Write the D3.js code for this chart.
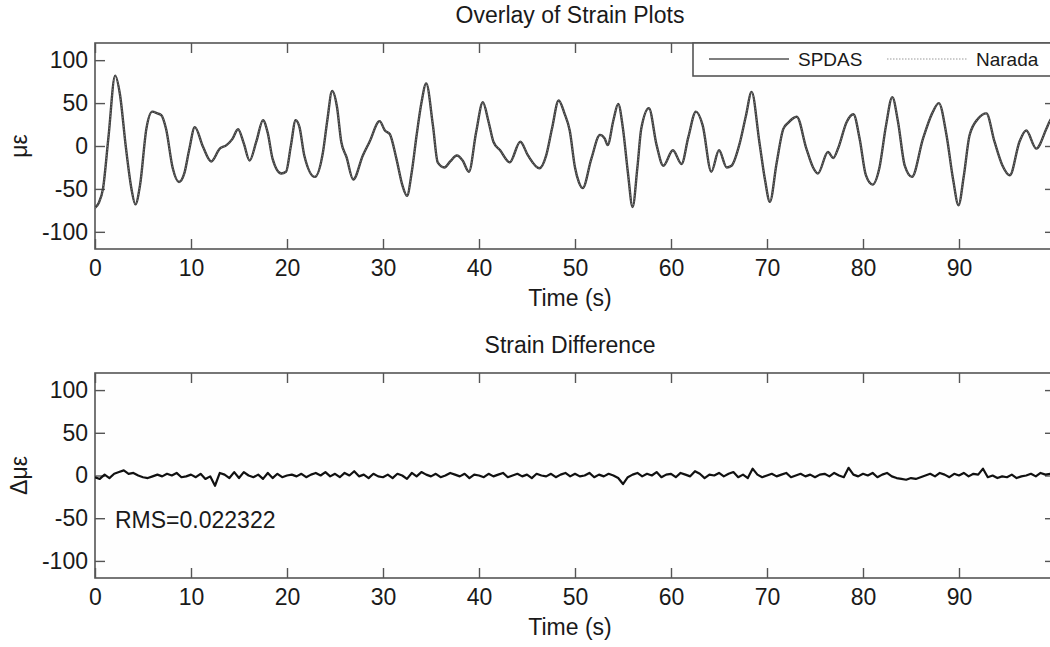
<!DOCTYPE html>
<html>
<head>
<meta charset="utf-8">
<style>
  body { margin: 0; background: #fff; font-family: "Liberation Sans", Arial, Helvetica, sans-serif; }
  .axis text { font-size: 23px; fill: #1a1a1a; font-family: "Liberation Sans", Arial, sans-serif; }
  .axis line { stroke: #555; stroke-width: 1.4; }
  .axis path { display: none; }
  .box { fill: #fefefe; stroke: #555; stroke-width: 1.6; }
  .title, .xlabel, .ylabel, .note { font-size: 23px; fill: #1a1a1a; }
  .legend text { font-size: 19px; fill: #1a1a1a; }
</style>
</head>
<body>
<script src="https://d3js.org/d3.v7.min.js"></script>
<script>
// strain overlay: points (time in s, strain in microstrain)
const strainTime = [0, 0.4, 0.83, 1.4, 2.1, 2.6, 3.2, 3.8, 4.2, 4.7, 5.35, 5.97, 6.5, 6.9, 7.4, 8.1, 8.75, 9.3, 9.8,
  10.4, 11.25, 12.1, 13.0, 13.7, 14.3, 14.9, 15.5, 16.1, 16.8, 17.5, 18.0, 18.5, 19.4, 19.9,
  20.4, 20.9, 21.3, 21.8, 22.9, 23.75, 24.2, 24.7, 25.2, 25.65, 26.2, 26.9, 27.9, 28.6, 29.65,
  30.2, 30.7, 31.4, 32.0, 32.5, 33.0, 33.5, 34.0, 34.5, 35.2, 35.7, 36.4, 37.0, 37.7, 38.3, 38.95, 39.7,
  40.4, 41.0, 41.5, 42.2, 43.2, 44.3, 45.1, 46.3, 47.0, 47.6, 48.3, 48.9, 49.45,
  50.0, 50.4, 50.8, 51.7, 52.6, 53.1, 53.4, 54.0, 54.5, 55.0, 55.5, 56.0, 56.5, 56.9, 57.7, 58.5, 59.2,
  60.2, 61.1, 61.8, 62.6, 63.3, 64.2, 65.0, 65.8, 66.3, 67.2, 67.8, 68.4, 69.2, 69.8,
  70.3, 71.0, 71.7, 72.2, 73.1, 74.1, 74.8, 75.3, 76.35, 76.9, 77.4, 78.3, 79.0, 79.65,
  80.3, 81.0, 81.7, 82.4, 83.05, 83.65, 84.35, 85.1, 86.25, 87.2, 87.9, 88.7, 89.4, 89.95,
  90.5, 91.1, 92.0, 92.85, 93.7, 94.5, 95.3, 96.3, 97.0, 98.05, 99.1, 99.5, 100];
const spdasStrain = [-72, -66, -50, 10, 82, 60, 0, -50, -68, -45, 20, 40, 38, 36, 20, -26, -42, -32, -5,
  22, -1, -18, -3, 1, 8, 19.5, 3, -17, 5, 30, 15, -15, -32, -30,
  0, 30, 22, -11, -36, -7, 30, 64, 46, 5, -13, -39, -11, 5, 29,
  18, 14, -15, -45, -58, -30, 12.5, 50, 73, 24, -19, -25, -18, -11, -17, -30, 16,
  51, 28, 5, -5, -19, 5, -11, -26, -11, 20, 53, 38, 18,
  -25, -42, -49, -15, 13, 8.5, 1, 30, 49, 20, -30, -71, -25, 20, 44, 1, -23,
  -5, -21, 10, 40, 24, -30, -5, -25, -23, 5, 35, 63, 5, -40,
  -65, -20, 20, 27, 34, -3, -25, -32, -7, -14, -3, 28, 37, 8.5,
  -34, -45, -26, 24, 57, 28, -23, -36, 8.5, 38, 50, 12.5, -40, -69,
  -35, 12.5, 32, 38, 5, -22, -34, 5, 18, -3, 20, 30, 35];
// Narada trace sits on top of SPDAS at this scale
const naradaStrain = spdasStrain;

// strain difference, one reading every 0.5 s
const diffStep = 0.5;
const strainDiff = [
  -2, -4, 1, -3, 2, 4, 6, 2, 3, 0,
  -2, -3, -1, 1, -1, 2, 0, 3, -2, -1,
  1, -2, 2, -4, -1, -12, 3, 1, -3, 4,
  -3, 4, 0, -2, 1, -4, 3, -3, 2, -2,
  0, 1, -1, 2, -2, 1, 3, 0, 4, -1,
  2, -2, 3, 0, 5, -1, 1, -3, 2, -1,
  -2, 1, -3, 2, 0, -4, 3, -1, 4, 1,
  -1, 2, -2, 0, 3, 1, -1, 2, -3, 1,
  0, -2, 2, -1, 1, 3, -2, 0, 2, -1,
  1, -3, 2, 0, -1, 2, -2, 1, 3, -1,
  2, -1, 0, 3, -2, 1, -1, 2, 0, -3,
  -10, -2, 1, 3, -1, 2, 0, 4, -2, 1,
  2, -2, 3, 1, -1, 5, 2, -3, 1, 0,
  3, -1, 2, 4, -2, 1, -3, 8, 1, -2,
  0, 2, -1, 1, 3, -2, 0, 2, -1, 1,
  -2, 1, 2, -1, 3, 0, -2, 9, 1, -1,
  2, 0, 3, -2, 1, 3, -1, -3, -4, -5,
  -3, -4, -2, 0, 2, -1, 3, 1, -2, 2,
  0, 3, -1, 2, 1, 8, -2, 0, -3, -1,
  -2, 1, -3, -1, 0, 2, -1, 3, 1, 2,
  0];

const xTicks = [0, 10, 20, 30, 40, 50, 60, 70, 80, 90];
const yTicks = [-100, -50, 0, 50, 100];
const legendNames = ["SPDAS", "Narada"];
const rmsLabel = "RMS=0.022322";

const width = 1050, height = 647;
const left = 95, right = 1055;

const svg = d3.select("body").append("svg")
  .attr("width", width)
  .attr("height", height);

const x = d3.scaleLinear().domain([0, 100]).range([left, right]);
const plain = d => String(d);   // hyphen minus, like the original

function panel(top, bottom, id, title, ylab) {
  const y = d3.scaleLinear().domain([-120, 120]).range([bottom, top]);

  svg.append("rect").attr("class", "box")
    .attr("x", left).attr("y", top)
    .attr("width", right - left).attr("height", bottom - top);

  svg.append("clipPath").attr("id", id)
    .append("rect").attr("x", left).attr("y", top)
    .attr("width", right - left).attr("height", bottom - top);

  svg.append("g").attr("class", "axis")
    .attr("transform", "translate(0," + bottom + ")")
    .call(d3.axisBottom(x).tickValues(xTicks).tickFormat(plain).tickSize(-10).tickPadding(11));
  svg.append("g").attr("class", "axis")
    .attr("transform", "translate(0," + top + ")")
    .call(d3.axisTop(x).tickValues(xTicks).tickSize(-10).tickFormat(""));
  svg.append("g").attr("class", "axis")
    .attr("transform", "translate(" + left + ",0)")
    .call(d3.axisLeft(y).tickValues(yTicks).tickFormat(plain).tickSize(-10).tickPadding(7));
  svg.append("g").attr("class", "axis")
    .attr("transform", "translate(" + right + ",0)")
    .call(d3.axisRight(y).tickValues(yTicks).tickSize(-10).tickFormat(""));

  svg.append("text").attr("class", "title")
    .attr("x", (left + right) / 2 - 5).attr("y", top - 20)
    .attr("text-anchor", "middle").text(title);
  svg.append("text").attr("class", "xlabel")
    .attr("x", (left + right) / 2 - 5).attr("y", bottom + 57)
    .attr("text-anchor", "middle").text("Time (s)");
  svg.append("text").attr("class", "ylabel")
    .attr("transform", "translate(27," + y(0) + ") rotate(-90)")
    .attr("text-anchor", "middle").text(ylab);
  return y;
}

// top panel
const y1 = panel(43, 249, "clipTop", "Overlay of Strain Plots", "με");
const strainLine = d3.line()
  .x((d, i) => x(strainTime[i]))
  .y(d => y1(d))
  .curve(d3.curveMonotoneX);

svg.append("path")
  .attr("clip-path", "url(#clipTop)")
  .attr("d", strainLine(spdasStrain))
  .attr("fill", "none").attr("stroke", "#3c3c3c").attr("stroke-width", 2.4);
svg.append("path")
  .attr("clip-path", "url(#clipTop)")
  .attr("d", strainLine(naradaStrain))
  .attr("fill", "none").attr("stroke", "#777").attr("stroke-width", 1)
  .attr("stroke-dasharray", "1.5,1.5");

// legend
const lg = svg.append("g").attr("class", "legend");
lg.append("rect").attr("x", 693).attr("y", 43).attr("width", 370).attr("height", 33)
  .attr("fill", "#fff").attr("stroke", "#555").attr("stroke-width", 1.6);
lg.append("line").attr("x1", 709).attr("x2", 789).attr("y1", 59).attr("y2", 59)
  .attr("stroke", "#555").attr("stroke-width", 1.5);
lg.append("text").attr("x", 798).attr("y", 66).text(legendNames[0]);
lg.append("line").attr("x1", 887).attr("x2", 967).attr("y1", 59).attr("y2", 59)
  .attr("stroke", "#999").attr("stroke-width", 1).attr("stroke-dasharray", "1.5,1.5");
lg.append("text").attr("x", 976).attr("y", 66).text(legendNames[1]);

// bottom panel
const y2 = panel(373, 578, "clipBot", "Strain Difference", "Δμε");
const diffLine = d3.line()
  .x((d, i) => x(i * diffStep))
  .y(d => y2(d));
svg.append("path")
  .attr("clip-path", "url(#clipBot)")
  .attr("d", diffLine(strainDiff))
  .attr("fill", "none").attr("stroke", "#111").attr("stroke-width", 2.2)
  .attr("stroke-linejoin", "round");

svg.append("text").attr("class", "note")
  .attr("x", 115).attr("y", 528)
  .text(rmsLabel);
</script>
</body>
</html>
